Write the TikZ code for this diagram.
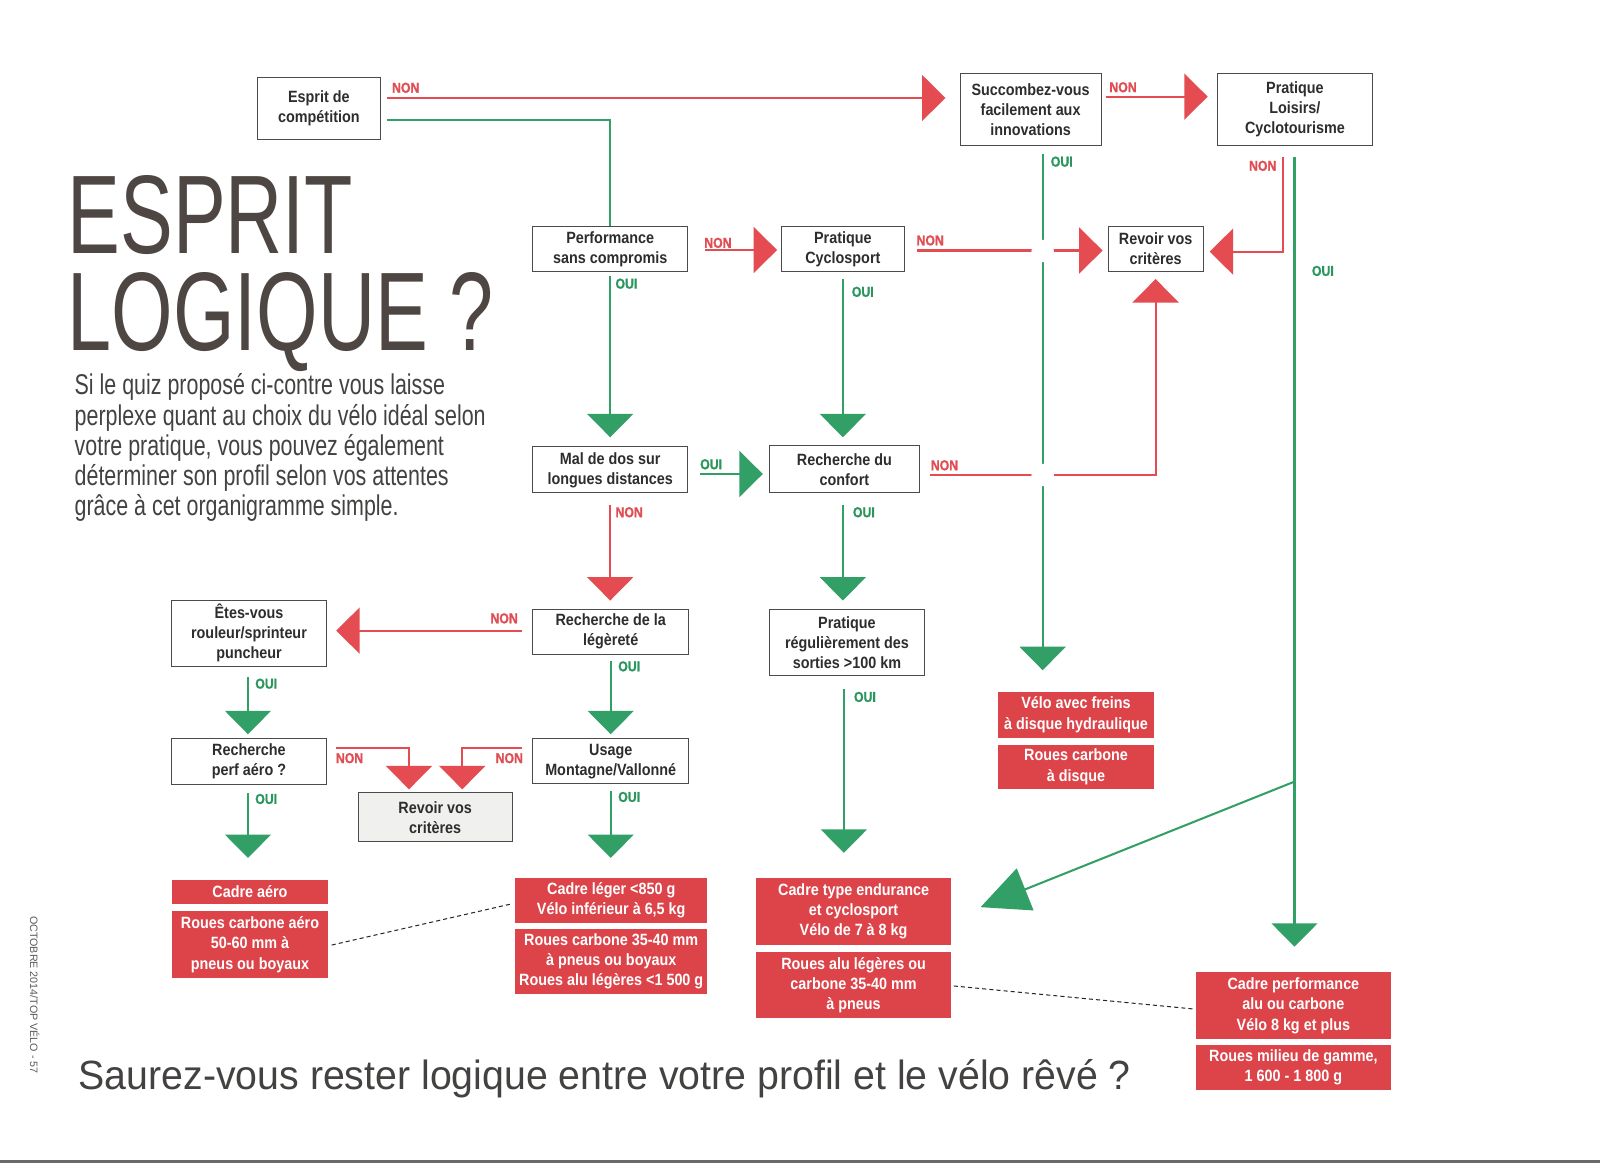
\documentclass[tikz,border=0pt]{standalone}
\usepackage{fontspec}
\setmainfont{Liberation Sans}
\newfontfamily\boxfont[FakeStretch=0.88]{Liberation Sans}
\newfontfamily\lblfont[FakeStretch=0.86,FakeBold=1.2]{Liberation Sans Bold}
\newfontfamily\titlefont[FakeStretch=0.708]{Liberation Sans}
\newfontfamily\bodyfont[FakeStretch=0.75]{Liberation Sans}
\newfontfamily\bottomfont[FakeStretch=0.962]{Liberation Sans}
\usetikzlibrary{arrows.meta}
\definecolor{cred}{RGB}{228,76,82}
\definecolor{credbox}{RGB}{220,68,74}
\definecolor{cnon}{RGB}{224,78,84}
\definecolor{cgreen}{RGB}{50,160,102}
\definecolor{coui}{RGB}{42,150,92}
\definecolor{cborder}{RGB}{75,75,75}
\definecolor{ctext}{RGB}{45,45,45}
\definecolor{ctitle}{RGB}{78,70,66}
\definecolor{cbody}{RGB}{68,66,64}
\definecolor{cside}{RGB}{90,90,90}
\definecolor{cband}{RGB}{105,105,105}
\definecolor{cgraybox}{RGB}{240,240,238}
\begin{document}
\begin{tikzpicture}[x=1pt,y=-1pt,
  qbox/.style={draw=cborder, line width=0.9pt, fill=white, text=ctext, align=center, inner sep=0pt,
    font=\boxfont\bfseries\fontsize{16}{19.6}\selectfont},
  rbox/.style={fill=credbox, text=white, align=center, inner sep=0pt,
    font=\boxfont\bfseries\fontsize{16}{20}\selectfont},
  rline/.style={draw=cred, line width=2pt},
  gline/.style={draw=cgreen, line width=2pt},
  rarr/.style={rline, -{Triangle[length=23pt,width=45pt]}},
  garr/.style={gline, -{Triangle[length=23pt,width=45pt]}},
  gbigarr/.style={gline, -{Triangle[length=47pt,width=44pt]}},
  dashline/.style={draw=black!85, line width=1pt, dash pattern=on 4pt off 3pt},
  lbl/.style={inner sep=0pt, font=\lblfont\fontsize{14}{14}\selectfont},
  nonlbl/.style={lbl, text=cnon},
  ouilbl/.style={lbl, text=coui},
]
\useasboundingbox (0,0) rectangle (1568,1140);
\fill[white] (0,0) rectangle (1568,1140);
\fill[cband] (0,1137) rectangle (1568,1140);

% title and texts
\node[anchor=base west, inner sep=0pt, text depth=0pt, text=ctitle, font=\titlefont\fontsize{109.5}{109.5}\selectfont] (title1) at (66,248) {ESPRIT};
\node[anchor=base west, inner sep=0pt, text height=80pt, text depth=0pt, text=ctitle, font=\titlefont\fontsize{109.5}{109.5}\selectfont] (title2) at (66,343) {LOGIQUE ?};
\tikzset{bodyline/.style={anchor=base west, inner sep=0pt, text=cbody, font=\bodyfont\fontsize{28}{29.5}\selectfont}}
\node[bodyline] (body1) at (73,387) {Si le quiz proposé ci-contre vous laisse};
\node[bodyline] (body2) at (73,416.5) {perplexe quant au choix du vélo idéal selon};
\node[bodyline] (body3) at (73,446) {votre pratique, vous pouvez également};
\node[bodyline] (body4) at (73,475.5) {déterminer son profil selon vos attentes};
\node[bodyline] (body5) at (73,505) {grâce à cet organigramme simple.};
\node[anchor=base west, inner sep=0pt, text=cbody, font=\bottomfont\fontsize{40}{40}\selectfont] (bottom) at (77,1068) {Saurez-vous rester logique entre votre profil et le vélo rêvé ?};
\node[rotate=-90, inner sep=0pt, text=cside, font=\fontsize{10.5}{10.5}\selectfont] (side) at (34,975) {OCTOBRE 2014/TOP VÉLO - 57};

% question boxes
\node[qbox, minimum width=121pt, minimum height=61pt] (esprit) at (312.5,106.5) {Esprit de\\compétition};
\node[qbox, minimum width=138pt, minimum height=71pt] (succ) at (1010,107.5) {Succombez-vous\\facilement aux\\innovations};
\node[qbox, minimum width=152pt, minimum height=71pt] (loisirs) at (1269,107.5) {Pratique\\Loisirs/\\Cyclotourisme};
\node[qbox, minimum width=152pt, minimum height=44pt] (perf) at (598,244) {Performance\\sans compromis};
\node[qbox, minimum width=120pt, minimum height=44pt] (cyclo) at (826,244) {Pratique\\Cyclosport};
\node[qbox, minimum width=93pt, minimum height=44pt] (revoir1) at (1132.5,244) {Revoir vos\\critères};
\node[qbox, minimum width=152pt, minimum height=45pt] (maldos) at (598,460.5) {Mal de dos sur\\longues distances};
\node[qbox, minimum width=147pt, minimum height=46pt] (confort) at (827.5,460) {Recherche du\\confort};
\node[qbox, minimum width=152pt, minimum height=65pt] (etes) at (244,620.5) {Êtes-vous\\rouleur/sprinteur\\puncheur};
\node[qbox, minimum width=153pt, minimum height=44pt] (leger) at (598.5,619) {Recherche de la\\légèreté};
\node[qbox, minimum width=152pt, minimum height=65pt] (sorties) at (830,629.5) {Pratique\\régulièrement des\\sorties >100 km};
\node[qbox, minimum width=152pt, minimum height=45pt] (aero) at (244,746.5) {Recherche\\perf aéro ?};
\node[qbox, minimum width=153pt, minimum height=44pt] (usage) at (598.5,746) {Usage\\Montagne/Vallonné};
\node[qbox, fill=cgraybox, minimum width=151pt, minimum height=48pt] (revoir2) at (426.5,801) {Revoir vos\\critères};

% result boxes
\node[rbox, minimum width=153pt, minimum height=45pt] (freins) at (1054.5,700.5) {Vélo avec freins\\à disque hydraulique};
\node[rbox, minimum width=153pt, minimum height=43pt] (rdisque) at (1054.5,751.5) {Roues carbone\\à disque};
\node[rbox, minimum width=152pt, minimum height=24pt] (cadreaero) at (245,874) {Cadre aéro};
\node[rbox, minimum width=152pt, minimum height=65pt] (rouesaero) at (245,925.5) {Roues carbone aéro\\50-60 mm à\\pneus ou boyaux};
\node[rbox, minimum width=188pt, minimum height=45pt] (cadreleger) at (599,882.5) {Cadre léger <850 g\\Vélo inférieur à 6,5 kg};
\node[rbox, minimum width=188pt, minimum height=64pt] (rouesleger) at (599,942) {Roues carbone 35-40 mm\\à pneus ou boyaux\\Roues alu légères <1 500 g};
\node[rbox, minimum width=191pt, minimum height=66pt] (cadreend) at (836.5,893) {Cadre type endurance\\et cyclosport\\Vélo de 7 à 8 kg};
\node[rbox, minimum width=191pt, minimum height=65pt] (rouesend) at (836.5,965.5) {Roues alu légères ou\\carbone 35-40 mm\\à pneus};
\node[rbox, minimum width=191pt, minimum height=65pt] (cadreperf) at (1267.5,985.5) {Cadre performance\\alu ou carbone\\Vélo 8 kg et plus};
\node[rbox, minimum width=191pt, minimum height=44pt] (rouesperf) at (1267.5,1046) {Roues milieu de gamme,\\1 600 - 1 800 g};

% connectors
\draw[gline, shorten <=6pt] (esprit.east |- 0,117.5) -| (perf.north);
\draw[rarr, shorten <=6pt, shorten >=14pt] (esprit.east |- 0,96) -- (succ.west |- 0,96);
\draw[garr, shorten <=4pt, shorten >=9pt] (perf.south) -- (maldos.north);
\draw[rarr, shorten <=16pt, shorten >=4pt] (perf.east |- 0,245) -- (cyclo.west |- 0,245);
\draw[garr, shorten <=7pt, shorten >=21pt] (1021.8,0 |- succ.south) -- (1021.8,0 |- freins.north);
\draw[rarr, shorten <=12pt, shorten >=5pt] (cyclo.east |- 0,245.5) -- (revoir1.west |- 0,245.5);
\draw[garr, shorten <=7pt, shorten >=8pt] (cyclo.south) -- (cyclo.south |- confort.north);
\draw[rarr, shorten <=4pt, shorten >=9pt] (succ.east |- 0,94.7) -- (loisirs.west |- 0,94.7);
\draw[rarr, shorten <=10.5pt, shorten >=6pt] (1257.6,0 |- loisirs.south) |- (revoir1.east |- 0,246.6);
\draw[garr, shorten <=10.5pt, shorten >=25pt] (1268.6,0 |- loisirs.south) -- (1268.6,0 |- cadreperf.north);
\coordinate (branch) at (1268.6,766);
\coordinate (endtip) at (961,889);
\draw[gbigarr] (branch) -- (endtip);
\draw[garr, shorten <=12pt, shorten >=6pt] (maldos.east |- 0,464.5) -- (confort.west |- 0,464.5);
\draw[rarr, shorten <=11pt, shorten >=8pt] (maldos.south) -- (maldos.south |- leger.north);
\draw[rarr, shorten <=10pt, shorten >=7pt] (confort.east |- 0,465.5) -| (revoir1.south);
\draw[garr, shorten <=11pt, shorten >=8pt] (826,0 |- confort.south) -- (826,0 |- sorties.north);
\draw[rarr, shorten <=10pt, shorten >=9pt] (leger.west |- 0,618) -- (etes.east |- 0,618);
\draw[garr, shorten <=6pt, shorten >=4pt] (leger.south) -- (leger.south |- usage.north);
\draw[garr, shorten <=10pt, shorten >=4pt] (243,0 |- etes.south) -- (243,0 |- aero.north);
\draw[rarr, shorten <=9pt, shorten >=3pt] (aero.east |- 0,732.7) -| (400.8,0 |- revoir2.north);
\draw[rarr, shorten <=10pt, shorten >=3pt] (usage.west |- 0,732.7) -| (453,0 |- revoir2.north);
\draw[garr, shorten <=8pt, shorten >=21pt] (243,0 |- aero.south) -- (243,0 |- cadreaero.north);
\draw[garr, shorten <=7pt, shorten >=19pt] (usage.south) -- (usage.south |- cadreleger.north);
\draw[garr, shorten <=13pt, shorten >=24pt] (827,0 |- sorties.south) -- (827,0 |- cadreend.north);
\draw[dashline, shorten <=4pt, shorten >=4.5pt] (rouesaero.east |- 0,927) -- (cadreleger.west |- 0,885);
\draw[dashline, shorten <=2.5pt, shorten >=1pt] (rouesend.east |- 0,966) -- (cadreperf.west |- 0,989);

% crossing gaps
\fill[white] (1021.8,246) circle (11pt);
\fill[white] (1021.8,465.5) circle (11pt);

% labels
\node[nonlbl, anchor=west] (nA) at (384,86) {NON};
\node[nonlbl, anchor=west] (nD) at (690,238) {NON};
\node[nonlbl, anchor=west] (nE) at (898,235.6) {NON};
\node[nonlbl, anchor=west] (nH) at (1087,85.5) {NON};
\node[nonlbl, anchor=east] (nI) at (1251,162.5) {NON};
\node[nonlbl, anchor=west] (nM) at (603,502) {NON};
\node[nonlbl, anchor=west] (nN) at (912,456) {NON};
\node[nonlbl, anchor=east] (nP) at (507.6,606) {NON};
\node[nonlbl, anchor=west] (nS) at (329,743) {NON};
\node[nonlbl, anchor=east] (nT) at (512.7,743) {NON};
\node[ouilbl, anchor=west] (oC) at (603,278) {OUI};
\node[ouilbl, anchor=west] (oF) at (834.6,286) {OUI};
\node[ouilbl, anchor=west] (oG) at (1029.6,158.4) {OUI};
\node[ouilbl, anchor=west] (oJ) at (1285.5,265.5) {OUI};
\node[ouilbl, anchor=west] (oL) at (686,455) {OUI};
\node[ouilbl, anchor=west] (oO) at (835.7,502) {OUI};
\node[ouilbl, anchor=west] (oQ) at (605.7,653) {OUI};
\node[ouilbl, anchor=west] (oR) at (250,670) {OUI};
\node[ouilbl, anchor=west] (oU) at (250,783) {OUI};
\node[ouilbl, anchor=west] (oV) at (605.7,781) {OUI};
\node[ouilbl, anchor=west] (oW) at (836.7,683) {OUI};
\end{tikzpicture}
\end{document}
